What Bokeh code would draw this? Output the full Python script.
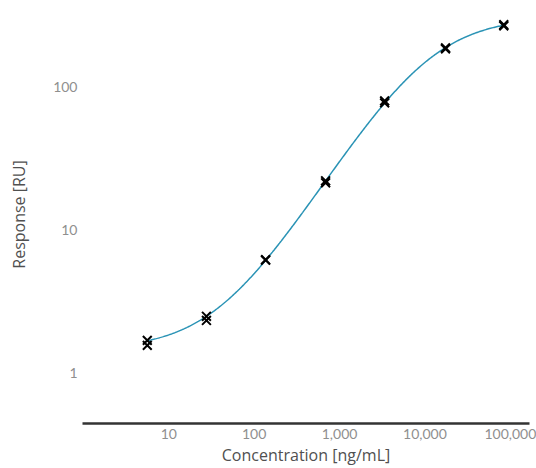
import numpy as np
from bokeh.plotting import figure
from bokeh.models import FixedTicker, NumeralTickFormatter
from bokeh.embed import file_html
from bokeh.resources import INLINE

# Data (concentration in ng/mL, response in RU)
concentration = [5.6, 27.6, 136, 686, 3370, 17400, 83700]
response_rep1 = [1.69, 2.49, 6.20, 21.4, 77.5, 185, 268]
response_rep2 = [1.56, 2.33, 6.15, 22.1, 80.0, 188, 273]

# 4-parameter logistic fit parameters (estimated from the drawn curve)
fit_bottom = 1.45
fit_top = 310.0
fit_ec50 = 11000.0
fit_hill = 0.95

x_ticks = [10, 100, 1000, 10000, 100000]
y_ticks = [1, 10, 100]

x_title = "Concentration [ng/mL]"
y_title = "Response [RU]"

TICK_FONT = "Lato"
TITLE_FONT = "Open Sans"

p = figure(width=536, height=468, x_axis_type="log", y_axis_type="log",
           x_range=(0.976, 167500), y_range=(0.443, 372),
           output_backend="svg", toolbar_location=None,
           min_border_left=82, min_border_right=7, min_border_top=5,
           min_border_bottom=45)

xc = np.logspace(np.log10(concentration[0]), np.log10(concentration[-1]), 400)
yc = fit_bottom + (fit_top - fit_bottom) / (1.0 + (fit_ec50 / xc) ** fit_hill)
p.line(xc, yc, line_color="#2a93b5", line_width=1.5)

xs = concentration + concentration
ys = response_rep1 + response_rep2
p.scatter(xs, ys, marker="x", size=12.5, line_color="black", line_width=2)

p.grid.visible = False
p.outline_line_color = None
p.background_fill_color = "white"
p.border_fill_color = "white"

xa = p.xaxis[0]
xa.ticker = FixedTicker(ticks=x_ticks)
xa.formatter = NumeralTickFormatter(format="0,0")
xa.axis_line_color = "#333333"
xa.axis_line_width = 2.5
xa.major_tick_line_color = None
xa.minor_tick_line_color = None
xa.major_tick_out = 0
xa.major_label_standoff = 5
xa.major_label_text_font = TICK_FONT
xa.major_label_text_font_size = "14px"
xa.major_label_text_color = "#8f8f8f"
xa.axis_label = x_title
xa.axis_label_text_font = TITLE_FONT
xa.axis_label_text_font_size = "16px"
xa.axis_label_text_font_style = "normal"
xa.axis_label_text_color = "#505050"
xa.axis_label_standoff = 2

ya = p.yaxis[0]
ya.ticker = FixedTicker(ticks=y_ticks)
ya.formatter = NumeralTickFormatter(format="0,0")
ya.axis_line_color = None
ya.major_tick_line_color = None
ya.minor_tick_line_color = None
ya.major_tick_out = 0
ya.major_label_standoff = 5
ya.major_label_text_font = TICK_FONT
ya.major_label_text_font_size = "14px"
ya.major_label_text_color = "#8f8f8f"
ya.axis_label = y_title
ya.axis_label_text_font = TITLE_FONT
ya.axis_label_text_font_size = "16px"
ya.axis_label_text_font_style = "normal"
ya.axis_label_text_color = "#505050"
ya.axis_label_standoff = 20

open("out.html", "w").write(file_html(p, INLINE))
